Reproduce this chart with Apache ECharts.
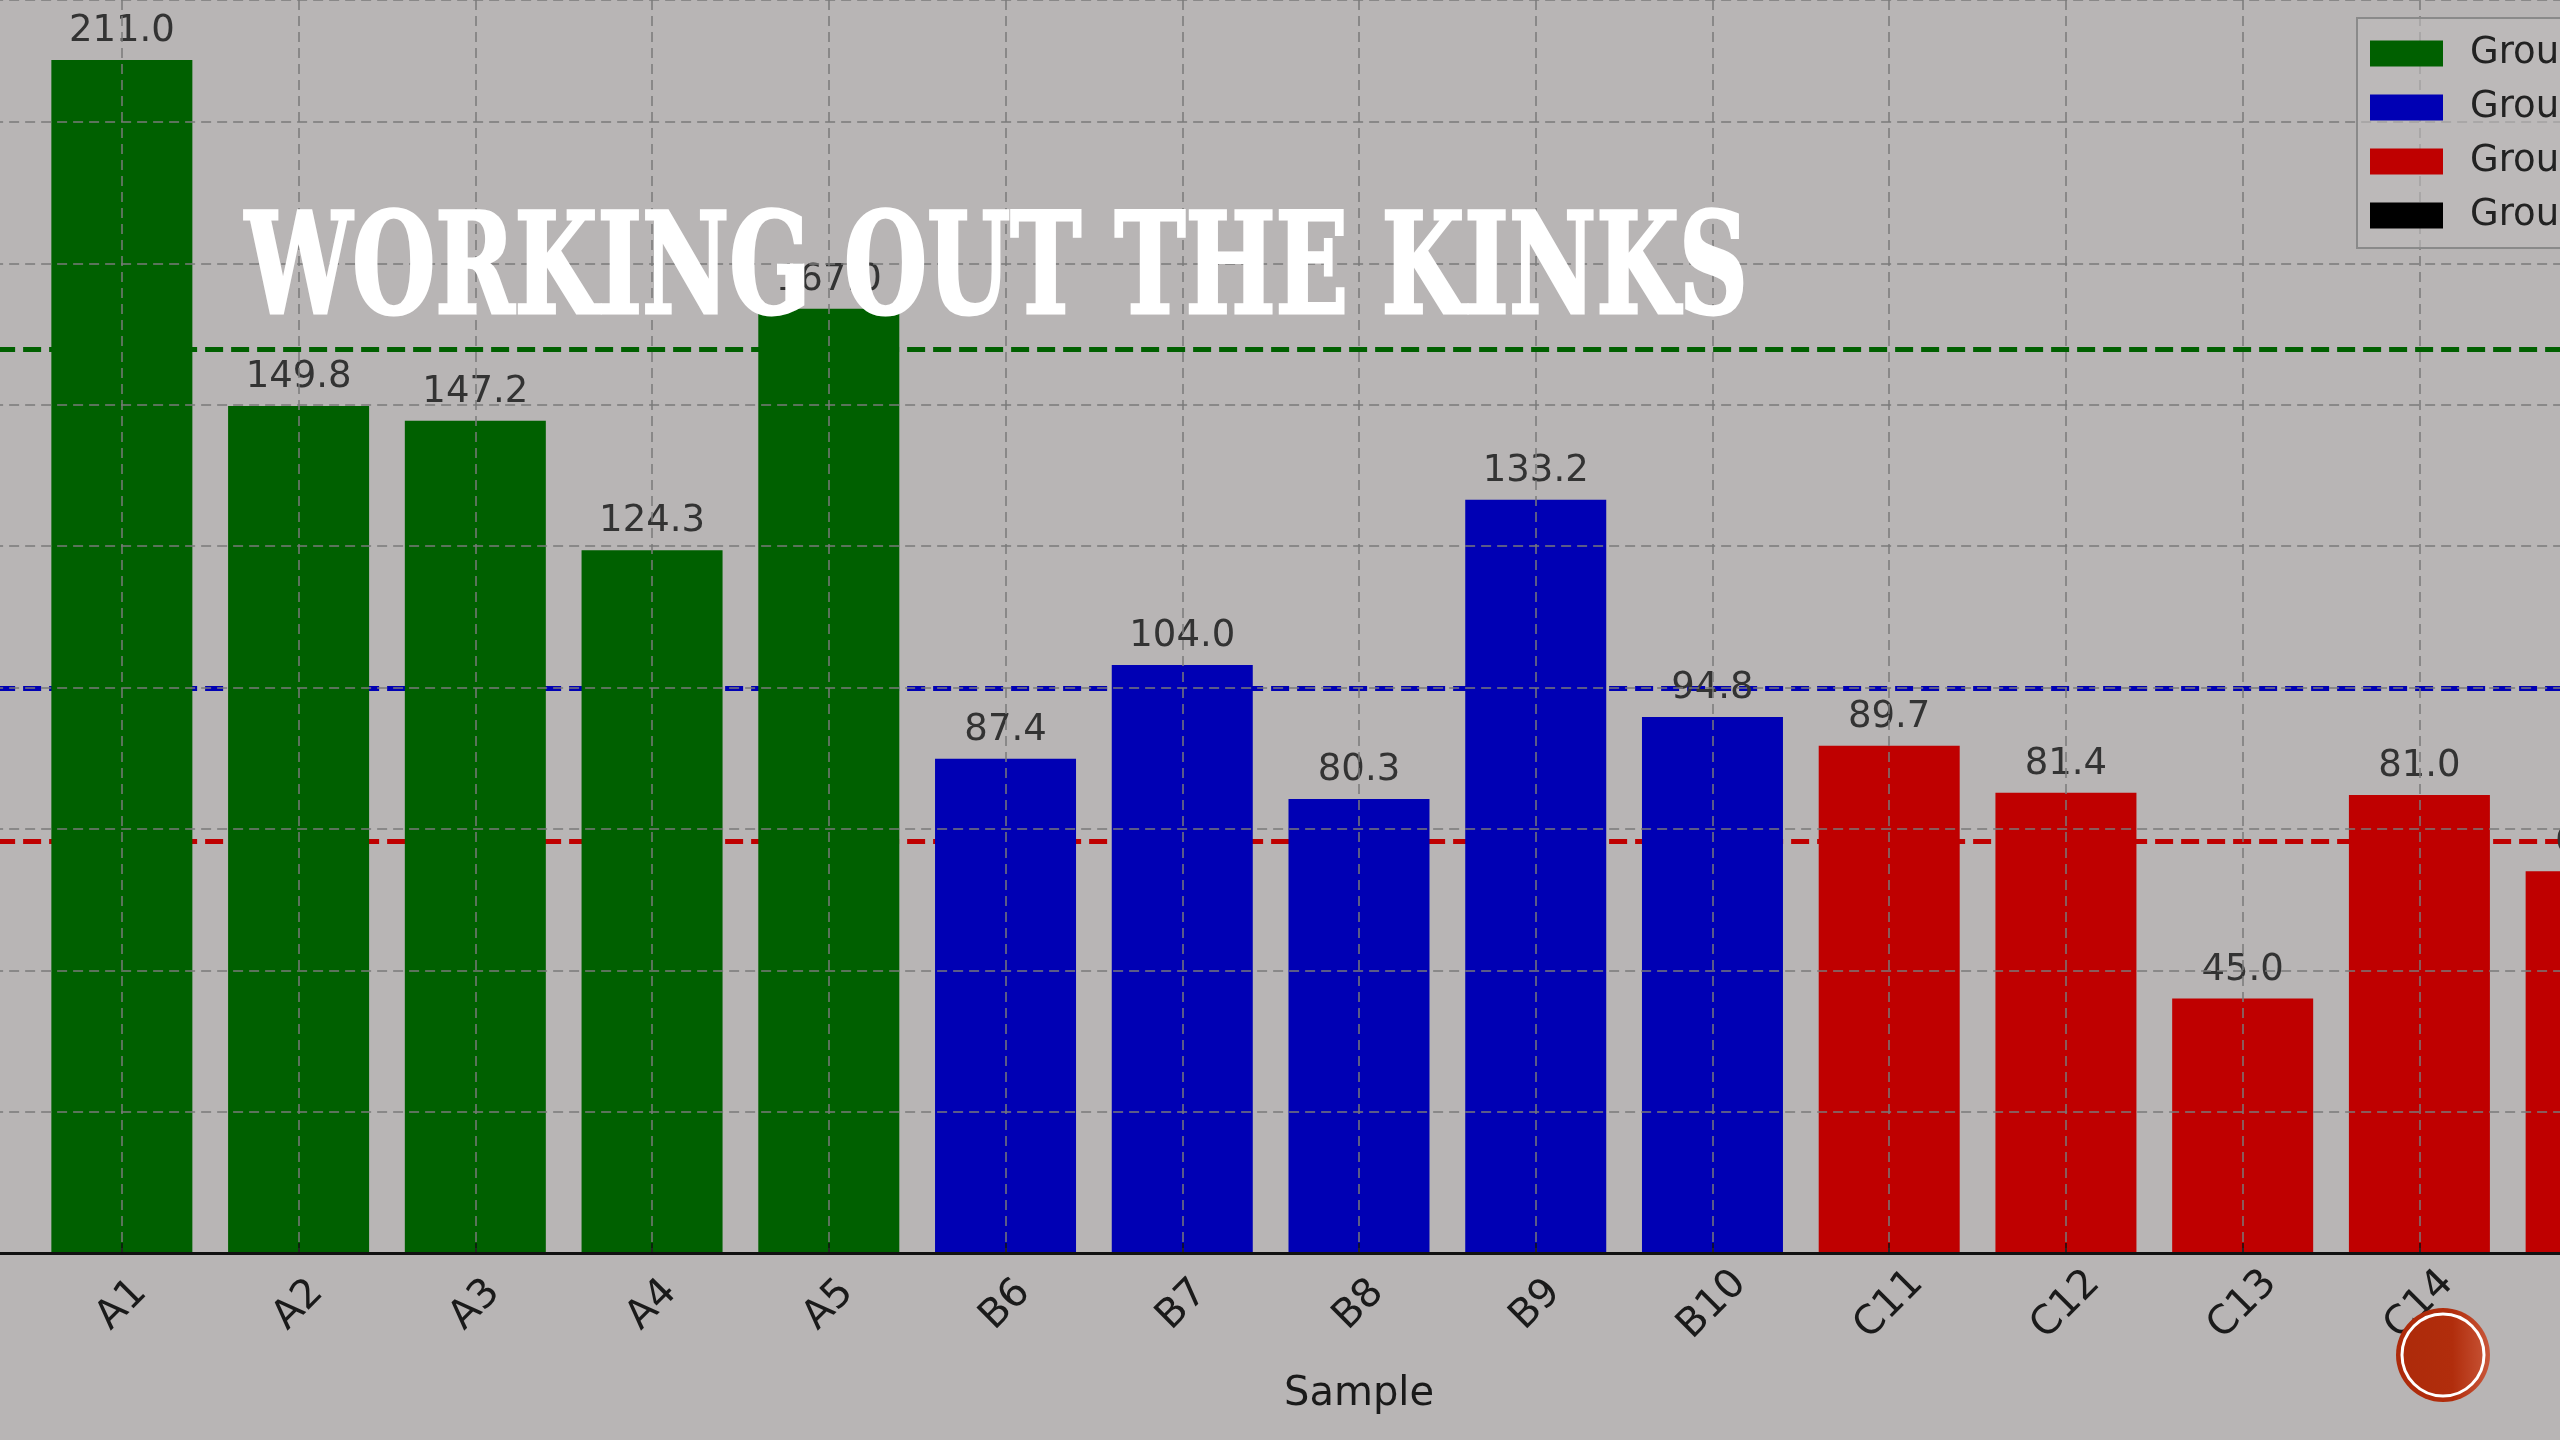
<!DOCTYPE html>
<html>
<head>
<meta charset="utf-8">
<style>
  html, body { margin: 0; padding: 0; background: #b8b5b5; overflow: hidden; }
  /* the plot runs past both edges of the slide, so the chart box is wider than the window */
  #chart { width: 2832px; height: 1440px; margin-left: -57px; }
</style>
<script src="https://cdn.jsdelivr.net/npm/echarts@6/dist/echarts.min.js"></script>
</head>
<body>
<div id="chart"></div>
<script>
// values
const categories = ['A1', 'A2', 'A3', 'A4', 'A5', 'B6', 'B7', 'B8', 'B9', 'B10', 'C11', 'C12', 'C13', 'C14', 'C15'];
const groupA = [211.0, 149.8, 147.2, 124.3, 167.0];
const groupB = [87.4, 104.0, 80.3, 133.2, 94.8];
const groupC = [89.7, 81.4, 45.0, 81.0, 67.5];
const groupMeans = [159.9, 99.9, 72.9];
const groupNames = ['Group A', 'Group B', 'Group C', 'Group D'];

const chart = echarts.init(document.getElementById('chart'));

// bars sit on a value x axis, one position per sample
let offset = 0;
const toPoints = (vals) => {
  const pts = vals.map((v, i) => [offset + i, v]);
  offset += vals.length;
  return pts;
};
const ptsA = toPoints(groupA);
const ptsB = toPoints(groupB);
const ptsC = toPoints(groupC);

const barLabel = {
  show: true,
  position: 'top',
  distance: 10,
  fontSize: 37,
  color: '#333',
  formatter: (p) => p.value[1].toFixed(1)
};

const meanLine = (v, color) => ({
  silent: true,
  z: 1,
  symbol: 'none',
  label: { show: false },
  lineStyle: { color: color, width: 5, type: [18, 8] },
  data: [{ yAxis: v }]
});

const dx = 57; // shift of the chart box against the window

const option = {
  backgroundColor: '#b8b5b5',
  textStyle: { fontFamily: 'DejaVu Sans' },
  animation: false,
  grid: {
    left: 0,
    right: 0,
    top: 0,
    bottom: 187
  },
  legend: {
    orient: 'vertical',
    left: 2357 + dx,
    top: 18,
    padding: [17, 20, 14, 13],
    itemWidth: 73,
    itemHeight: 26,
    itemGap: 17,
    icon: 'rect',
    borderColor: '#8a8a8a',
    borderWidth: 2,
    backgroundColor: 'rgba(190,188,188,0.6)',
    textStyle: { fontSize: 37, color: '#222', padding: [0, 0, 0, 22] },
    data: groupNames
  },
  xAxis: {
    type: 'value',
    min: -1,
    max: 15,
    interval: 1,
    z: 3,
    name: 'Sample',
    nameLocation: 'middle',
    nameGap: 122,
    nameTextStyle: { fontSize: 40, color: '#1a1a1a' },
    axisLine: { show: true, onZero: false, lineStyle: { color: '#111', width: 3 } },
    axisTick: { show: true, inside: true, length: 10, lineStyle: { color: '#111', width: 1.5 } },
    axisLabel: {
      fontSize: 40,
      color: '#1a1a1a',
      rotate: 45,
      align: 'center',
      verticalAlign: 'middle',
      margin: 52,
      formatter: (v) => categories[v] || ''
    },
    splitLine: { show: true, lineStyle: { color: '#7a7a7a', width: 1.5, type: [10, 6] } }
  },
  yAxis: {
    type: 'value',
    min: 0,
    max: 221.6,
    interval: 25,
    z: 3,
    axisLine: { show: false },
    axisTick: { show: false },
    axisLabel: { show: false },
    splitLine: { show: true, lineStyle: { color: '#7a7a7a', width: 1.5, type: [10, 6] } }
  },
  series: [
    {
      name: groupNames[0], type: 'bar', data: ptsA, barWidth: 141, barGap: '-100%',
      itemStyle: { color: '#006000' }, label: barLabel,
      markLine: meanLine(groupMeans[0], '#006000')
    },
    {
      name: groupNames[1], type: 'bar', data: ptsB, barWidth: 141, barGap: '-100%',
      itemStyle: { color: '#0000b4' }, label: barLabel,
      markLine: meanLine(groupMeans[1], '#0000b4')
    },
    {
      name: groupNames[2], type: 'bar', data: ptsC, barWidth: 141, barGap: '-100%',
      itemStyle: { color: '#bf0000' }, label: barLabel,
      markLine: meanLine(groupMeans[2], '#bf0000')
    },
    {
      name: groupNames[3], type: 'bar', data: [], barWidth: 141, barGap: '-100%',
      itemStyle: { color: '#000' }
    }
  ],
  graphic: [
    {
      type: 'text',
      z: 100,
      x: 245 + dx,
      y: 276,
      scaleX: 0.752,
      style: {
        text: 'WORKING OUT THE KINKS',
        fill: '#fff',
        stroke: '#fff',
        lineWidth: 3,
        font: 'bold 141px "DejaVu Serif Condensed", "DejaVu Serif", serif',
        textVerticalAlign: 'middle'
      }
    },
    {
      type: 'circle',
      z: 100,
      shape: { cx: 2443 + dx, cy: 1355, r: 47 },
      style: {
        fill: new echarts.graphic.LinearGradient(0, 0, 1, 0, [
          { offset: 0, color: '#ad2a0a' },
          { offset: 0.6, color: '#b12d0c' },
          { offset: 1, color: '#c9573a' }
        ])
      }
    },
    {
      type: 'circle',
      z: 101,
      shape: { cx: 2443 + dx, cy: 1355, r: 41 },
      style: { fill: 'none', stroke: '#fff', lineWidth: 3 }
    }
  ]
};

chart.setOption(option);
window.onresize = function () {
  chart.resize();
};
</script>
</body>
</html>
